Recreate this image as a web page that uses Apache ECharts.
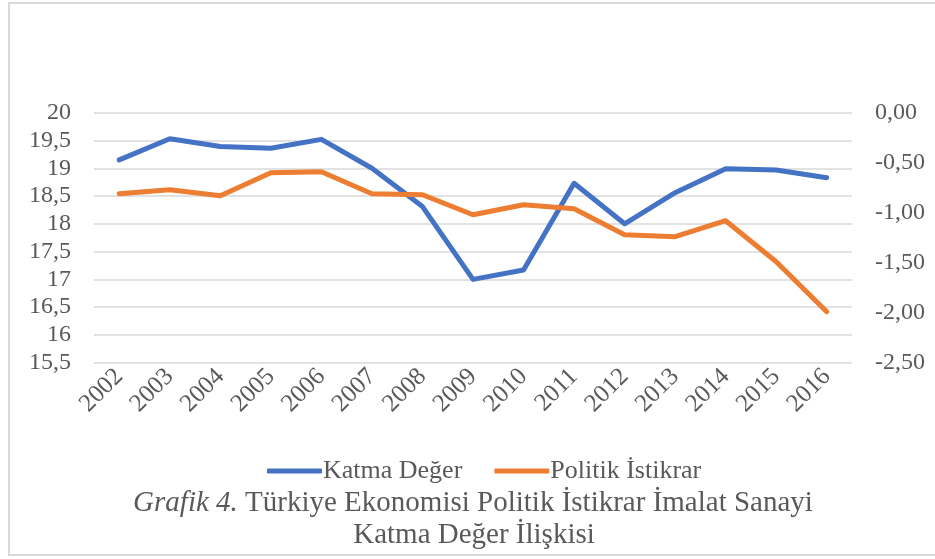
<!DOCTYPE html>
<html>
 <head>
  <title>Grafik 4</title>
  <script src="https://cdn.jsdelivr.net/npm/echarts@6/dist/echarts.min.js"></script>
  <style>
    html, body, #container {
    width: 100%;
    height: 100%;
    margin: 0;
    padding: 0;
    background: #fff;
    }
  </style>
 </head>

<body>
  <div id="container"></div>
  <script>

    var years = ['2002', '2003', '2004', '2005', '2006', '2007', '2008', '2009',
                 '2010', '2011', '2012', '2013', '2014', '2015', '2016'];

    // left axis
    var katmaDeger = [19.15, 19.53, 19.39, 19.36, 19.52, 19.0, 18.31, 17.0,
                      17.17, 18.73, 18.0, 18.56, 18.99, 18.97, 18.83];

    // right axis
    var politikIstikrar = [-0.81, -0.77, -0.83, -0.60, -0.59, -0.81, -0.82, -1.02,
                           -0.92, -0.96, -1.22, -1.24, -1.08, -1.49, -1.99];

    var seriesNames = ['Katma Değer', 'Politik İstikrar'];
    var caption = ['{i|Grafik 4.} Türkiye Ekonomisi Politik İstikrar İmalat Sanayi',
                   'Katma Değer İlişkisi'];

    var font = 'Liberation Serif';
    var textColor = '#595959';

    var chartDom = document.getElementById('container');
    var myChart = echarts.init(chartDom);

    var captionStyle = {
      fontFamily: font,
      fontSize: 29,
      fill: textColor,
      align: 'center',
      verticalAlign: 'middle',
      rich: {
        i: { fontFamily: font, fontStyle: 'italic', fontSize: 29, color: textColor }
      }
    };

    var options = {
      animation: false,
      textStyle: { fontFamily: font },
      graphic: [
        {
          type: 'rect',
          shape: { x: 9, y: 3, width: 960, height: 552 },
          style: { fill: 'none', stroke: '#d9d9d9', lineWidth: 2 }
        },
        {
          type: 'text',
          x: 473,
          y: 503,
          style: Object.assign({ text: caption[0] }, captionStyle)
        },
        {
          type: 'text',
          x: 474,
          y: 535,
          style: Object.assign({ text: caption[1] }, captionStyle)
        }
      ],
      legend: {
        top: 453,
        left: 262,
        itemWidth: 55,
        itemHeight: 5,
        itemGap: 32,
        icon: 'roundRect',
        textStyle: { fontFamily: font, fontSize: 26, color: textColor, padding: [0, 0, 0, -4] },
        data: seriesNames
      },
      grid: {
        left: 94,
        right: 83,
        top: 112.7,
        bottom: 196.3,
        containLabel: false
      },
      xAxis: {
        type: 'category',
        data: years,
        boundaryGap: true,
        axisLine: { show: false },
        axisTick: { show: false },
        axisLabel: {
          rotate: 45,
          margin: 10,
          fontFamily: font,
          fontSize: 25,
          color: textColor,
          interval: 0
        }
      },
      yAxis: [
        {
          type: 'value',
          min: 15.5,
          max: 20,
          interval: 0.5,
          axisLine: { show: false },
          axisTick: { show: false },
          splitLine: { lineStyle: { color: '#d9d9d9', width: 1.5 } },
          axisLabel: {
            margin: 23,
            fontFamily: font,
            fontSize: 24,
            color: textColor,
            formatter: function (v) { return String(v).replace('.', ','); }
          }
        },
        {
          type: 'value',
          min: -2.5,
          max: 0,
          interval: 0.5,
          axisLine: { show: false },
          axisTick: { show: false },
          splitLine: { show: false },
          axisLabel: {
            margin: 23,
            fontFamily: font,
            fontSize: 24,
            color: textColor,
            formatter: function (v) { return v.toFixed(2).replace('.', ','); }
          }
        }
      ],
      series: [
        {
          name: seriesNames[0],
          type: 'line',
          yAxisIndex: 0,
          data: katmaDeger,
          symbol: 'none',
          color: '#4472C4',
          lineStyle: { width: 5, cap: 'round', join: 'round' }
        },
        {
          name: seriesNames[1],
          type: 'line',
          yAxisIndex: 1,
          data: politikIstikrar,
          symbol: 'none',
          color: '#ED7D31',
          lineStyle: { width: 5, cap: 'round', join: 'round' }
        }
      ]
    };

    myChart.setOption(options);
  </script>
</body>
</html>
